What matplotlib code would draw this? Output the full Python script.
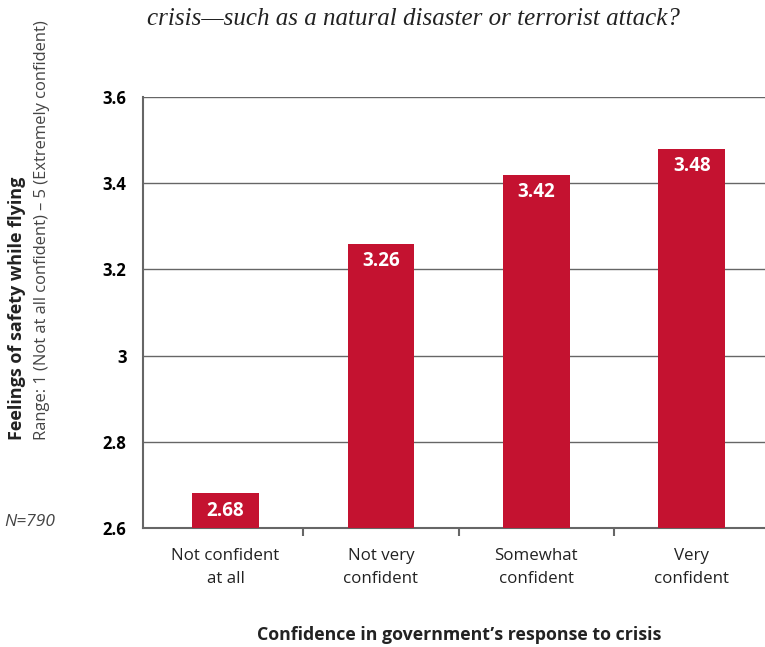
import matplotlib
matplotlib.use("Agg")
import matplotlib.pyplot as plt
from matplotlib.ticker import FixedLocator

categories = ["Not confident\nat all", "Not very\nconfident", "Somewhat\nconfident", "Very\nconfident"]
scores = [2.68, 3.26, 3.42, 3.48]
yticks = [2.6, 2.8, 3.0, 3.2, 3.4, 3.6]
ytick_labels = ["2.6", "2.8", "3", "3.2", "3.4", "3.6"]

red = "#c41230"
grey = "#666666"
sans = ["Open Sans", "DejaVu Sans"]

fig = plt.figure(figsize=(7.65, 6.47), dpi=100)
ax = fig.add_axes([0.187, 0.184, 0.813, 0.666])

x = list(range(len(categories)))
bars = ax.bar(x, scores, width=0.43, color=red, zorder=3)
for b, v in zip(bars, scores):
    ax.text(b.get_x() + b.get_width() / 2, v - 0.017, f"{v:.2f}",
            ha="center", va="top", color="white", fontsize=13.5,
            fontweight="bold", family=sans, zorder=4)

ax.set_ylim(2.6, 3.6)
ax.set_xlim(-0.53, 3.47)
ax.set_yticks(yticks)
ax.set_yticklabels(ytick_labels, fontsize=12, fontweight="bold", family=sans)
ax.yaxis.grid(True, color=grey, linewidth=1, zorder=0)

# category labels sit under the bars, tick marks between them
ax.xaxis.set_major_locator(FixedLocator([0.5, 1.5, 2.5]))
ax.set_xticklabels([])
ax.tick_params(axis="x", length=6, width=1.5, color=grey, direction="out")
ax.tick_params(axis="y", length=0, pad=12)
for i, c in enumerate(categories):
    ax.text(i, 2.553, c, ha="center", va="top", fontsize=12.2, family=sans,
            color="#222222", linespacing=1.55,
            transform=ax.transData)

for s in ["top", "right"]:
    ax.spines[s].set_visible(False)
ax.spines["left"].set_color(grey)
ax.spines["left"].set_linewidth(1.5)
ax.spines["bottom"].set_color(grey)
ax.spines["bottom"].set_linewidth(1.5)

fig.text(459 / 765, 1 - 635 / 647, "Confidence in government\u2019s response to crisis",
         ha="center", va="center", fontsize=12.8, fontweight="bold", family=sans,
         color="#222222")

fig.text(17 / 765, 1 - 440 / 647, "Feelings of safety while flying", rotation=90,
         ha="center", va="bottom", fontsize=13, fontweight="bold", family=sans,
         color="#222222")
fig.text(42 / 765, 1 - 440 / 647,
         "Range: 1 (Not at all confident) \u2013 5 (Extremely confident)",
         rotation=90, ha="center", va="bottom", fontsize=11.9, family=sans,
         color="#444444")
fig.text(55 / 765, 1 - 522 / 647, "N=790", ha="right", va="center",
         fontsize=12.5, style="italic", family=sans, color="#444444")

fig.text(147 / 765, 1 - 19 / 647,
         "crisis\u2014such as a natural disaster or terrorist attack?",
         ha="left", va="center", fontsize=18, style="italic",
         family=["Liberation Serif", "DejaVu Serif"], color="#222222")

fig.savefig("out.png", dpi=100)
